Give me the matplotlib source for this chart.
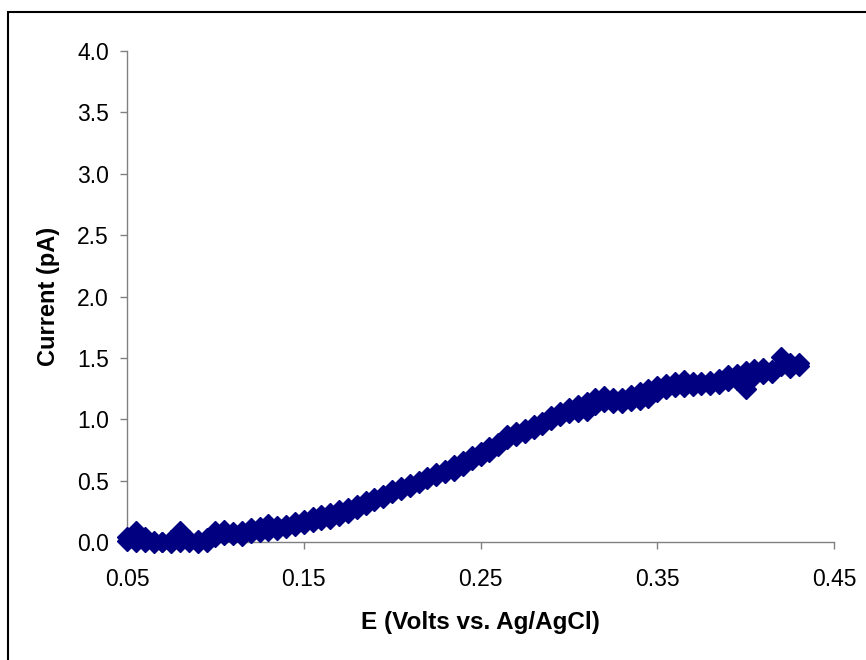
import matplotlib
matplotlib.use("Agg")
import matplotlib.pyplot as plt
from matplotlib.patches import Rectangle

plt.rcParams['font.family'] = ['Liberation Sans', 'DejaVu Sans']

# Potential (V vs Ag/AgCl)
e_volts = [0.050, 0.055, 0.060, 0.065, 0.070, 0.075, 0.080, 0.085, 0.090, 0.095,
           0.100, 0.105, 0.110, 0.115, 0.120, 0.125, 0.130, 0.135, 0.140, 0.145,
           0.150, 0.155, 0.160, 0.165, 0.170, 0.175, 0.180, 0.185, 0.190, 0.195,
           0.200, 0.205, 0.210, 0.215, 0.220, 0.225, 0.230, 0.235, 0.240, 0.245,
           0.250, 0.255, 0.260, 0.265, 0.270, 0.275, 0.280, 0.285, 0.290, 0.295,
           0.300, 0.305, 0.310, 0.315, 0.320, 0.325, 0.330, 0.335, 0.340, 0.345,
           0.350, 0.355, 0.360, 0.365, 0.370, 0.375, 0.380, 0.385, 0.390, 0.395,
           0.400, 0.405, 0.410, 0.415, 0.420, 0.425, 0.430]

# Current (pA), upper readings
current_a = [0.04, 0.09, 0.04, 0.01, 0.00, 0.02, 0.09, 0.02, 0.02, 0.03,
             0.09, 0.10, 0.08, 0.09, 0.11, 0.12, 0.15, 0.13, 0.14, 0.16,
             0.18, 0.20, 0.22, 0.24, 0.26, 0.28, 0.30, 0.33, 0.36, 0.38,
             0.42, 0.45, 0.47, 0.50, 0.53, 0.56, 0.59, 0.63, 0.66, 0.70,
             0.73, 0.77, 0.81, 0.87, 0.90, 0.92, 0.95, 0.98, 1.03, 1.06,
             1.09, 1.12, 1.14, 1.17, 1.19, 1.17, 1.17, 1.20, 1.22, 1.25,
             1.27, 1.29, 1.30, 1.32, 1.30, 1.30, 1.31, 1.33, 1.36, 1.37,
             1.39, 1.41, 1.42, 1.40, 1.51, 1.46, 1.46]

# Current (pA), lower readings
current_b = [0.01, 0.00, 0.00, -0.01, 0.00, -0.01, 0.00, 0.00, -0.01, 0.00,
             0.04, 0.06, 0.06, 0.05, 0.07, 0.08, 0.09, 0.10, 0.11, 0.13,
             0.15, 0.16, 0.18, 0.19, 0.21, 0.24, 0.27, 0.30, 0.33, 0.36,
             0.40, 0.42, 0.45, 0.48, 0.51, 0.54, 0.56, 0.58, 0.62, 0.67,
             0.70, 0.73, 0.78, 0.84, 0.86, 0.89, 0.92, 0.95, 0.99, 1.03,
             1.05, 1.06, 1.07, 1.12, 1.14, 1.13, 1.13, 1.15, 1.16, 1.17,
             1.22, 1.25, 1.26, 1.26, 1.27, 1.28, 1.28, 1.29, 1.31, 1.32,
             1.25, 1.35, 1.37, 1.38, 1.43, 1.42, 1.43]

x_ticks = [0.05, 0.15, 0.25, 0.35, 0.45]
x_tick_labels = ["0.05", "0.15", "0.25", "0.35", "0.45"]
y_ticks = [0.0, 0.5, 1.0, 1.5, 2.0, 2.5, 3.0, 3.5, 4.0]
y_tick_labels = ["0.0", "0.5", "1.0", "1.5", "2.0", "2.5", "3.0", "3.5", "4.0"]

W, H = 866, 660
fig = plt.figure(figsize=(W / 100, H / 100), dpi=100)
ax = fig.add_axes([127 / W, 1 - 542 / H, (834 - 127) / W, (542 - 51) / H])

navy = "#000080"
for ys in (current_b, current_a):
    ax.plot(e_volts, ys, linestyle="none", marker="D", markersize=10,
            markerfacecolor=navy, markeredgecolor=navy, markeredgewidth=1,
            clip_on=False, zorder=3)

ax.set_xlim(0.05, 0.45)
ax.set_ylim(0.0, 4.0)
ax.set_xticks(x_ticks)
ax.set_xticklabels(x_tick_labels)
ax.set_yticks(y_ticks)
ax.set_yticklabels(y_tick_labels)

for s in ("top", "right"):
    ax.spines[s].set_visible(False)
for s in ("left", "bottom"):
    ax.spines[s].set_color("#808080")
    ax.spines[s].set_linewidth(1.0)

ax.tick_params(axis="both", direction="out", length=5, width=1.0,
               color="#808080", labelsize=16.5, labelcolor="black")
ax.tick_params(axis="x", pad=14)
ax.tick_params(axis="y", pad=8)

ax.set_xlabel("E (Volts vs. Ag/AgCl)", fontsize=17.5, fontweight="bold", labelpad=14)
ax.set_ylabel("Current (pA)", fontsize=17, fontweight="bold", labelpad=12)

fig.patches.append(Rectangle((8 / W, -0.1), 1.2, (H - 12) / H + 0.1,
                             transform=fig.transFigure, fill=False,
                             edgecolor="black", linewidth=1.5))

fig.savefig("out.png", dpi=100)
